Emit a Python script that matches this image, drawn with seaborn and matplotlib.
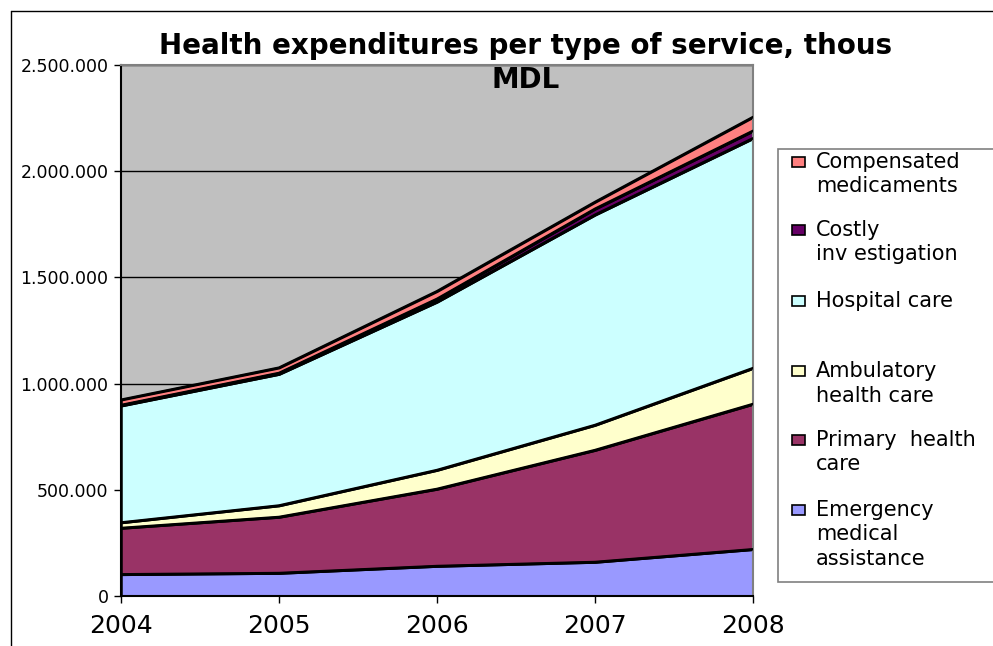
import numpy as np
import pandas as pd
import matplotlib
matplotlib.use("Agg")
import matplotlib.pyplot as plt
import seaborn as sns
from matplotlib.lines import Line2D
from matplotlib.patches import Rectangle

years = [2004, 2005, 2006, 2007, 2008]

# values in thous MDL
emergency = [102000, 108000, 141000, 160000, 220000]
primary = [218000, 264000, 363000, 527000, 684000]
ambulatory = [26000, 54000, 89000, 118000, 169000]
hospital = [550000, 619000, 792000, 990000, 1082000]
costly = [3000, 5000, 14000, 28000, 35000]
compensated = [25000, 25000, 36000, 32000, 65000]

series_names = ["Emergency medical assistance", "Primary health care",
                "Ambulatory health care", "Hospital care",
                "Costly investigation", "Compensated medicaments"]
series_colors = ["#9999FF", "#993366", "#FFFFCC", "#CCFFFF", "#660066", "#FF8080"]

# legend text as it appears in the chart (top to bottom)
legend_labels = ["Compensated\nmedicaments", "Costly\ninv estigation", "Hospital care",
                 "Ambulatory\nhealth care", "Primary  health\ncare",
                 "Emergency\nmedical\nassistance"]
legend_colors = series_colors[::-1]

title = "Health expenditures per type of service, thous\nMDL"

sns.set_style("white")
plt.rcParams['font.family'] = ['DejaVu Sans']
plt.rcParams['text.color'] = 'black'
plt.rcParams['xtick.color'] = 'black'
plt.rcParams['ytick.color'] = 'black'

W, H = 993, 646
fig = plt.figure(figsize=(W / 100, H / 100), dpi=100)
ax = fig.add_axes([121 / W, 1 - 596 / H, (753 - 121) / W, (596 - 65) / H])
ax.set_facecolor("#C0C0C0")

df = pd.DataFrame({"year": years, "e": emergency, "p": primary, "a": ambulatory,
                   "h": hospital, "c": costly, "m": compensated})
stack = df[["e", "p", "a", "h", "c", "m"]].cumsum(axis=1)

bottom = np.zeros(len(years))
for i, col in enumerate(stack.columns):
    top = stack[col].values
    ax.fill_between(df["year"], bottom, top, facecolor=series_colors[i],
                    edgecolor="black", linewidth=1.8, zorder=2)
    bottom = top

# boundary lines via seaborn
long = stack.assign(year=df["year"]).melt(id_vars="year", var_name="layer", value_name="val")
sns.lineplot(data=long, x="year", y="val", units="layer", estimator=None,
             color="black", linewidth=1.8, legend=False, ax=ax, zorder=3)

ax.set_xlim(2004, 2008)
ax.set_ylim(0, 2500000)
ax.set_xticks(years)
ax.set_xticklabels([str(y) for y in years], fontsize=18, color="black")
yt = np.arange(0, 2500001, 500000)
ax.set_yticks(yt)
ax.set_yticklabels([f"{int(v):,}".replace(",", ".") for v in yt], fontsize=12.5,
                   color="black")
ax.set_xlabel("")
ax.set_ylabel("")
ax.yaxis.grid(True, color="black", linewidth=1)
ax.set_axisbelow(True)
ax.tick_params(axis="both", direction="out", length=5, width=1, color="black",
               left=True, bottom=True)
ax.tick_params(axis="x", pad=8)
ax.tick_params(axis="y", pad=4)
for s in ["left", "bottom"]:
    ax.spines[s].set_color("black")
    ax.spines[s].set_linewidth(1.5)
for s in ["top", "right"]:
    ax.spines[s].set_color("#808080")
    ax.spines[s].set_linewidth(1.5)

# title
fig.text(526 / W, 1 - 63 / H, title, ha="center", va="center", fontsize=20,
         fontweight="bold", linespacing=1.25, color="black")

# legend box drawn by hand
fig.patches.append(Rectangle((778 / W, 1 - 582 / H), (W + 10 - 778) / W, (582 - 149) / H,
                             transform=fig.transFigure, facecolor="white",
                             edgecolor="#808080", linewidth=1.2))
line_h = 24.5
first_line = [162, 230, 301, 371, 440, 510]
for lab, c, y0 in zip(legend_labels, legend_colors, first_line):
    fig.patches.append(Rectangle((792 / W, 1 - (y0 + 5) / H), 13 / W, 10 / H,
                                 transform=fig.transFigure, facecolor=c,
                                 edgecolor="black", linewidth=1.2))
    for k, part in enumerate(lab.split("\n")):
        fig.text(816 / W, 1 - (y0 + k * line_h) / H, part, ha="left", va="center",
                 fontsize=15, color="black")

# outer chart frame
fig.add_artist(Line2D([11 / W, 1], [1 - 11 / H, 1 - 11 / H], transform=fig.transFigure,
                      color="black", linewidth=1))
fig.add_artist(Line2D([11 / W, 11 / W], [1 - 11 / H, 0], transform=fig.transFigure,
                      color="black", linewidth=1))

fig.savefig("out.png", dpi=100)
